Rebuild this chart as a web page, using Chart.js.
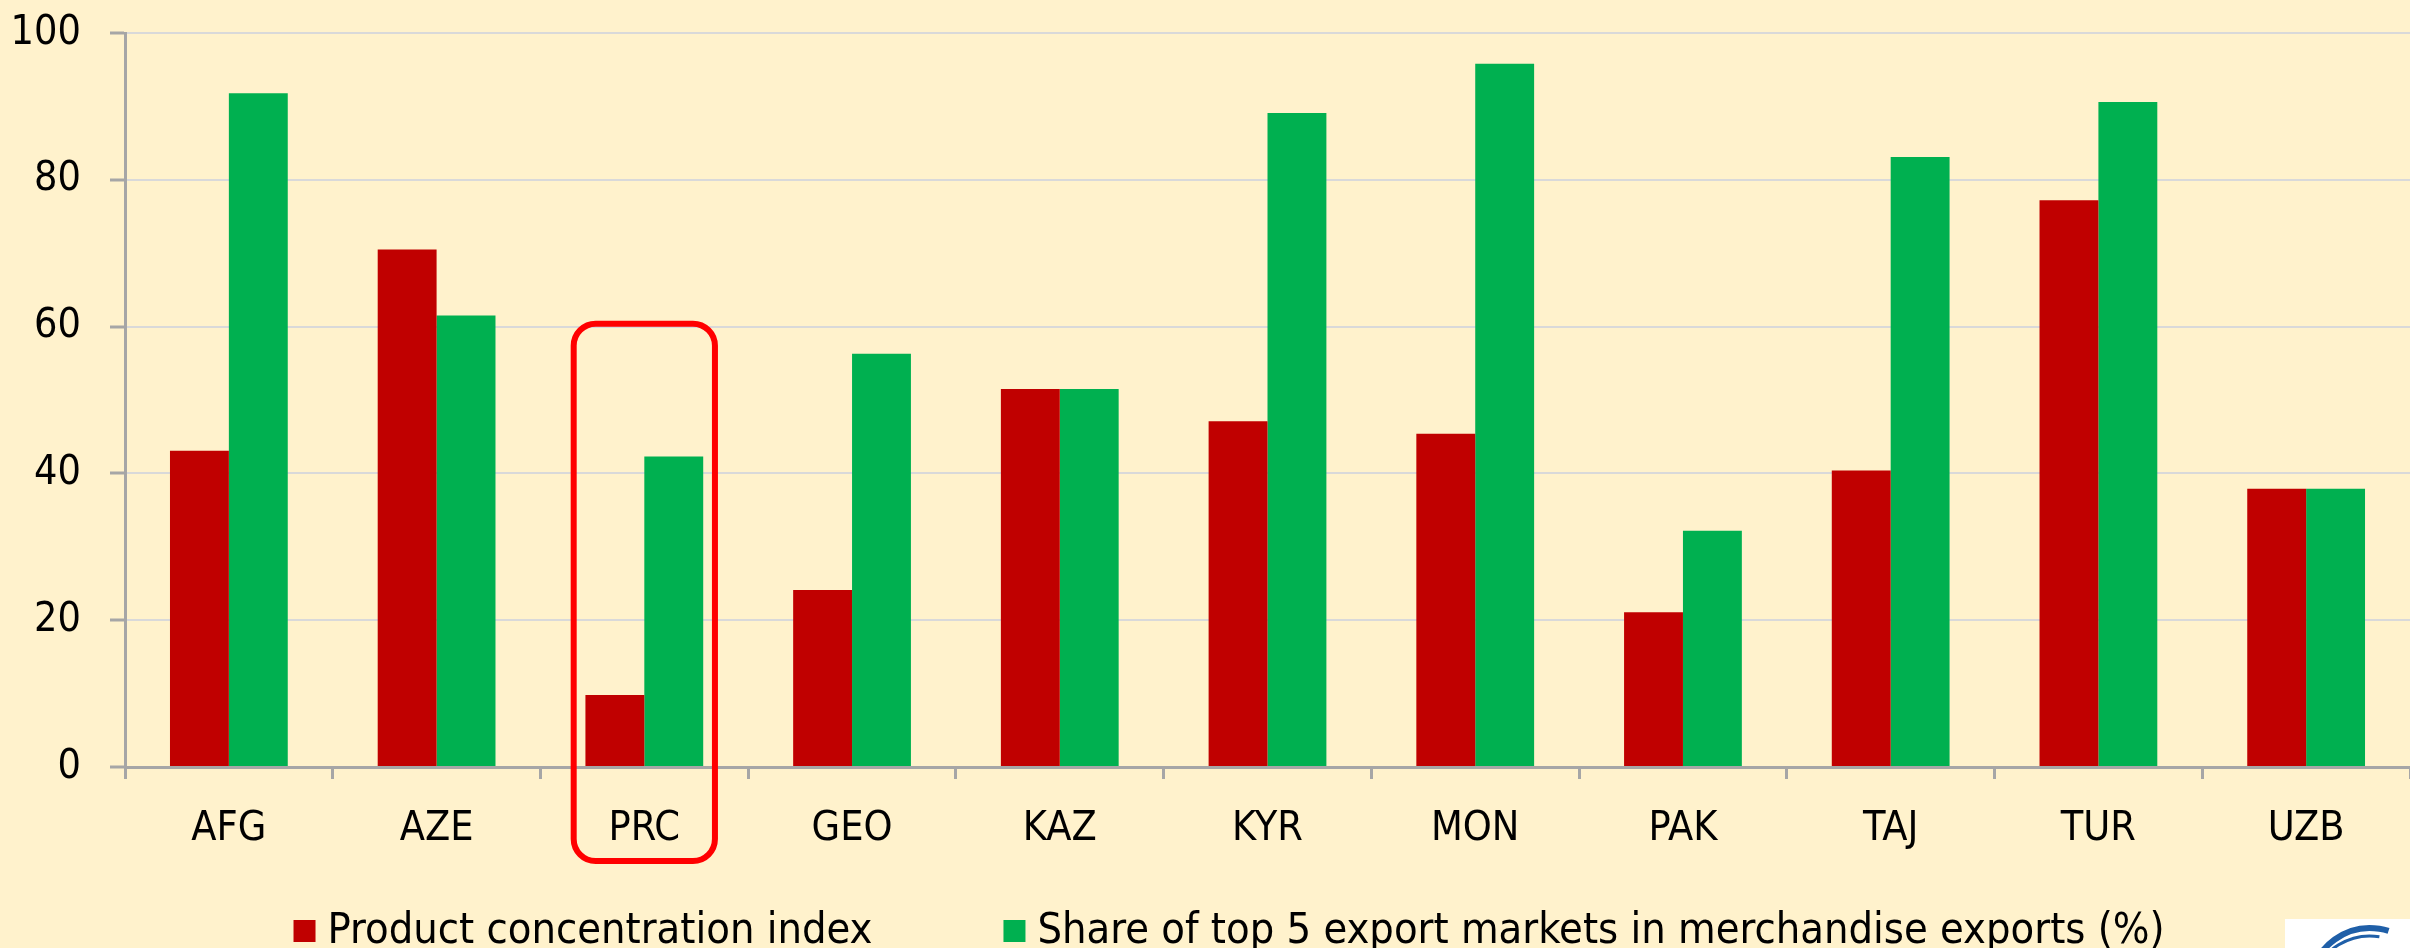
<!DOCTYPE html>
<html>
<head>
<meta charset="utf-8">
<script src="https://cdn.jsdelivr.net/npm/chart.js@4.4.1/dist/chart.umd.min.js"></script>
<style>
  html, body { margin: 0; padding: 0; background: #FFF2CC; }
  #wrap { width: 2410px; height: 948px; position: relative; }
</style>
</head>
<body>
<div id="wrap"><canvas id="chart"></canvas></div>
<script>
// Export concentration by country
const COUNTRIES = ['AFG', 'AZE', 'PRC', 'GEO', 'KAZ', 'KYR', 'MON', 'PAK', 'TAJ', 'TUR', 'UZB'];
const PRODUCT_CONCENTRATION = [43.1, 70.5, 9.8, 24.1, 51.5, 47.1, 45.4, 21.1, 40.4, 77.2, 37.9];
const TOP5_MARKET_SHARE = [91.8, 61.5, 42.3, 56.3, 51.5, 89.1, 95.8, 32.2, 83.1, 90.6, 37.9];
const Y_TICKS = [0, 20, 40, 60, 80, 100];
const HIGHLIGHT = 'PRC';

const RED = '#C00000';
const GREEN = '#00B050';
const AXIS_GRAY = '#A6A6A6';
const GRID_GRAY = '#D9D9D9';
const TICK_FONT = { family: "'DejaVu Sans Condensed', 'DejaVu Sans', sans-serif", size: 41, lineHeight: 1 };
const LEGEND_FONT = "43px 'Liberation Sans Narrow', 'DejaVu Sans Condensed', sans-serif";

// cream background + small logo corner
const backdrop = {
  id: 'backdrop',
  beforeDraw(chart) {
    const { ctx, width, height } = chart;
    ctx.save();
    ctx.fillStyle = '#FFF2CC';
    ctx.fillRect(0, 0, width, height);
    ctx.restore();
  },
  afterDraw(chart) {
    const { ctx, width, height } = chart;
    ctx.save();
    ctx.fillStyle = '#FFFFFF';
    ctx.fillRect(width - 125, height - 29, 125, 29);
    ctx.strokeStyle = '#1F5FA8';
    ctx.lineWidth = 6;
    ctx.beginPath();
    ctx.arc(width - 40, height + 40, 60, Math.PI * 1.05, Math.PI * 1.6);
    ctx.stroke();
    ctx.lineWidth = 3;
    ctx.beginPath();
    ctx.arc(width - 40, height + 48, 60, Math.PI * 1.1, Math.PI * 1.55);
    ctx.stroke();
    ctx.restore();
  }
};

// rounded red frame around the highlighted category
const highlightBox = {
  id: 'highlightBox',
  afterDraw(chart) {
    const x = chart.scales.x, y = chart.scales.y;
    const idx = COUNTRIES.indexOf(HIGHLIGHT);
    const cw = x.width / COUNTRIES.length;
    const cx = x.getPixelForValue(idx);
    const left = cx - cw * 0.34, right = cx + cw * 0.34;
    const top = y.getPixelForValue(60.4);
    const bottom = chart.chartArea.bottom + 94;
    const ctx = chart.ctx;
    ctx.save();
    ctx.strokeStyle = '#FF0000';
    ctx.lineWidth = 6;
    ctx.beginPath();
    ctx.roundRect(left, top, right - left, bottom - top, 22);
    ctx.stroke();
    ctx.restore();
  }
};

// legend row under the axis, spaced like the original
const bottomLegend = {
  id: 'bottomLegend',
  afterDraw(chart) {
    const ctx = chart.ctx;
    const box = 22, gap = 12, spacing = 131;
    const y = chart.height - 16;
    ctx.save();
    ctx.font = LEGEND_FONT;
    ctx.textBaseline = 'middle';
    const items = chart.data.datasets.map(ds => ({
      text: ds.label, color: ds.backgroundColor, w: ctx.measureText(ds.label).width
    }));
    const total = items.reduce((s, it) => s + box + gap + it.w, 0) + spacing * (items.length - 1);
    let x = chart.width * 0.51 - total / 2;
    items.forEach(it => {
      ctx.fillStyle = it.color;
      ctx.fillRect(x, y - box / 2 - 1, box, box);
      ctx.fillStyle = '#000000';
      ctx.fillText(it.text, x + box + gap, y);
      x += box + gap + it.w + spacing;
    });
    ctx.restore();
  }
};

new Chart(document.getElementById('chart'), {
  type: 'bar',
  data: {
    labels: COUNTRIES,
    datasets: [
      {
        label: 'Product concentration index',
        data: PRODUCT_CONCENTRATION,
        backgroundColor: RED,
        borderWidth: 0,
      },
      {
        label: 'Share of top 5 export markets in merchandise exports (%)',
        data: TOP5_MARKET_SHARE,
        backgroundColor: GREEN,
        borderWidth: 0,
      }
    ]
  },
  options: {
    responsive: true,
    maintainAspectRatio: false,
    animation: false,
    layout: { padding: { top: 33, right: 0, bottom: 81, left: 0 } },
    plugins: {
      tooltip: { enabled: false },
      legend: { display: false }
    },
    datasets: {
      bar: { barPercentage: 1.0, categoryPercentage: 0.567 }
    },
    scales: {
      x: {
        grid: {
          drawOnChartArea: false,
          drawTicks: true,
          tickLength: 12,
          tickColor: AXIS_GRAY,
          tickWidth: 3,
        },
        border: { color: AXIS_GRAY, width: 3 },
        ticks: {
          color: '#000000',
          font: TICK_FONT,
          padding: 30,
        },
        afterFit(s) { s.height = 100; }
      },
      y: {
        min: 0,
        max: 100,
        afterBuildTicks(s) { s.ticks = Y_TICKS.map(v => ({ value: v })); },
        grid: {
          color: GRID_GRAY,
          lineWidth: 2,
          tickColor: AXIS_GRAY,
          tickLength: 15,
          tickWidth: 3,
        },
        border: { color: AXIS_GRAY, width: 3 },
        ticks: {
          color: '#000000',
          font: TICK_FONT,
          padding: 29,
        },
        afterFit(s) { s.width = 125; s.paddingTop = 0; }
      }
    }
  },
  plugins: [backdrop, highlightBox, bottomLegend]
});
</script>
</body>
</html>
